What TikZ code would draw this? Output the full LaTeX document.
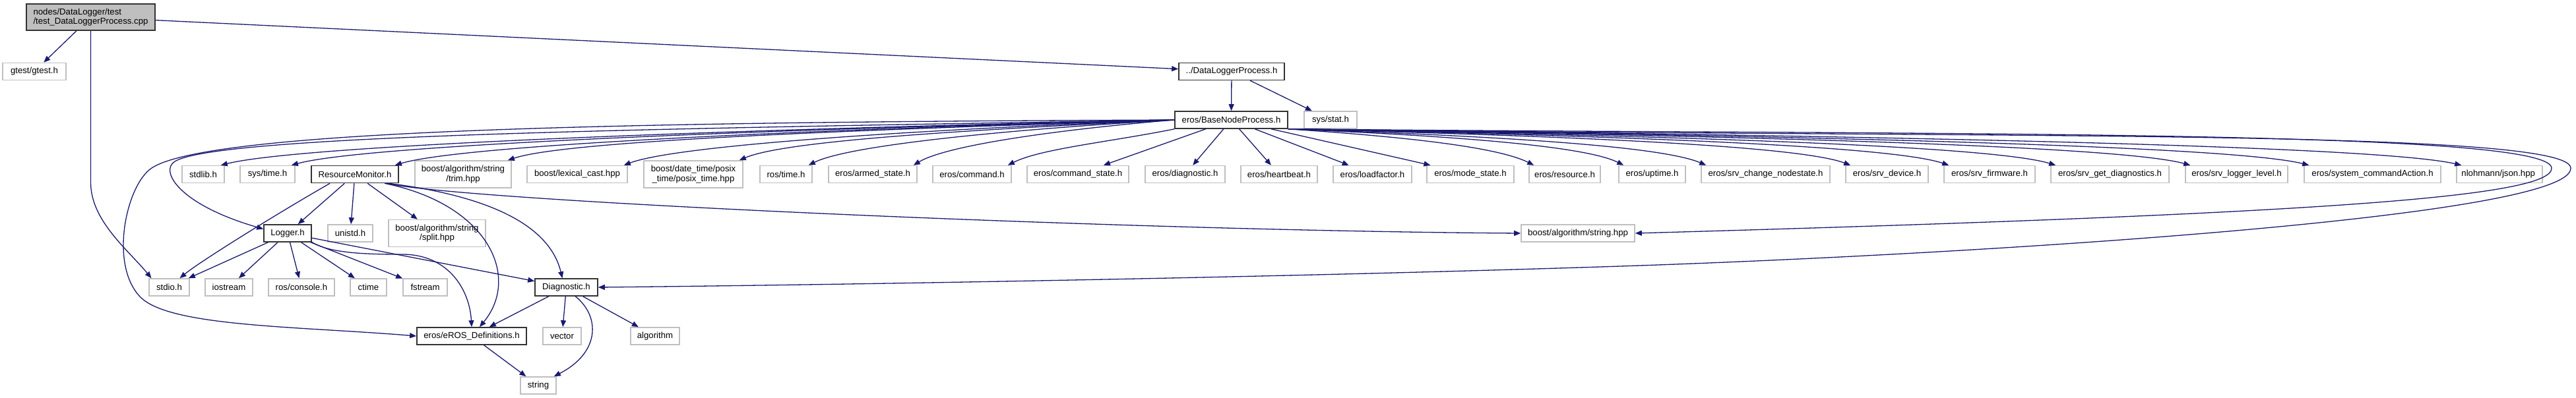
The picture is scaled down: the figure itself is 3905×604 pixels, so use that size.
\documentclass[tikz,border=0pt]{standalone}
\usepackage{fontspec}
\setmainfont{Liberation Sans}
\usepackage{xcolor}
\usepackage{tikz}
\usetikzlibrary{arrows.meta,calc}

\definecolor{edgeblue}{HTML}{191970}
\definecolor{extgray}{HTML}{BFBFBF}

\begin{document}
\begin{tikzpicture}[
  x=0.5pt, y=0.5pt,
  hdrbox/.style={rectangle, inner sep=0pt, minimum height=13pt, align=center, line width=0.8pt, fill=white, font=\fontsize{6.6}{7.4}\selectfont},
  ext/.style={hdrbox, draw=extgray},
  doc/.style={hdrbox, draw=black!80},
  tall/.style={minimum height=20.5pt},
  wd/.style={minimum width=#1*0.5pt},
  dep/.style={draw=edgeblue, line width=0.65pt, -{Triangle[length=5pt, width=4pt]}}
]
  \useasboundingbox (0,0) rectangle (3905,-604);
  \node[doc, fill=extgray, wd=195, minimum height=20pt, align=left] (root) at (137.5,-26) {nodes/DataLogger/test\\/test\_DataLoggerProcess.cpp};
  \node[ext, wd=96] (gtest) at (52,-108.5) {gtest/gtest.h};
  \node[doc, wd=160] (dlp) at (1867,-108.5) {../DataLoggerProcess.h};
  \node[doc, wd=171] (base) at (1866.5,-182) {eros/BaseNodeProcess.h};
  \node[ext, wd=80] (sysstat) at (2017,-182) {sys/stat.h};
  \foreach \name/\x/\w/\label in {
    stdlib/308/64/{stdlib.h}, systime/405.5/83/{sys/time.h}, lexcast/875/152/{boost/lexical\_cast.hpp},
    rostime/1191.5/79/{ros/time.h}, armed/1323/134/{eros/armed\_state.h}, command/1473.5/119/{eros/command.h},
    cmdstate/1634/154/{eros/command\_state.h}, erosdiag/1796.5/121/{eros/diagnostic.h}, heartbeat/1939/116/{eros/heartbeat.h},
    loadfactor/2080.5/119/{eros/loadfactor.h}, modestate/2229/132/{eros/mode\_state.h}, resource/2372/108/{eros/resource.h},
    uptime/2504.5/101/{eros/uptime.h}, chgstate/2676.5/195/{eros/srv\_change\_nodestate.h}, srvdevice/2860.5/125/{eros/srv\_device.h},
    firmware/3016/138/{eros/srv\_firmware.h}, getdiag/3198.5/179/{eros/srv\_get\_diagnostics.h}, loglevel/3390.5/155/{eros/srv\_logger\_level.h},
    syscmd/3596.5/207/{eros/system\_commandAction.h}, json/3789/130/{nlohmann/json.hpp}
  } {
    \node[ext, wd=\w] (\name) at (\x,-264.5) {\label};
  }
  \node[doc, wd=132] (resmon) at (538,-264.5) {ResourceMonitor.h};
  \node[ext, tall, wd=146] (trim) at (702,-264.5) {boost/algorithm/string\\/trim.hpp};
  \node[ext, tall, wd=150] (posixtime) at (1051,-264.5) {boost/date\_time/posix\\\_time/posix\_time.hpp};
  \node[doc, wd=72] (logger) at (436,-354) {Logger.h};
  \node[ext, wd=68] (unistd) at (531,-354) {unistd.h};
  \node[ext, tall, wd=147] (split) at (662.5,-354) {boost/algorithm/string\\/split.hpp};
  \node[ext, wd=172] (algstring) at (2392,-354) {boost/algorithm/string.hpp};
  \foreach \name/\x/\w/\label in {stdio/256.5/61/{stdio.h}, iostream/347/72/{iostream}, console/457/100/{ros/console.h}, ctime/558.5/55/{ctime}, fstream/644.5/67/{fstream}} {
    \node[ext, wd=\w] (\name) at (\x,-436) {\label};
  }
  \node[doc, wd=95] (diagnostic) at (858.5,-436) {Diagnostic.h};
  \node[doc, wd=166] (erosdef) at (715,-510) {eros/eROS\_Definitions.h};
  \node[ext, wd=58] (vector) at (852,-510) {vector};
  \node[ext, wd=74] (algorithm) at (993,-510) {algorithm};
  \node[ext, wd=54] (string) at (816,-585) {string};

  \draw[dep] (root) -- (gtest);
  \draw[dep] (root) -- (dlp);
  \draw[dep] (root.south) -- (137.5,-277) .. controls (137.5,-335) and (195,-380) .. ([xshift=-13.5pt]stdio.north);
  \draw[dep] (dlp) -- (base);\draw[dep] (dlp) -- (sysstat);
  % fan out of BaseNodeProcess
  \foreach \tgt/\lead/\hook in {stdlib/700/120, systime/650/110, resmon/580/100, trim/480/90, lexcast/400/80, posixtime/310/70, rostime/260/60, armed/180/50} {
    \draw[dep] (base.west) .. controls +(-\lead,-15) and +(\hook,30) .. ([xshift=-3pt]\tgt.north east);
  }
  \draw[dep] (base.south west) .. controls +(-100,-20) and +(50,25) .. ([xshift=-3pt]command.north east);
  \foreach \tgt in {cmdstate,erosdiag,heartbeat,loadfactor,modestate} {\draw[dep] (base) -- (\tgt);}
  \foreach \tgt/\lead/\hook in {resource/150/60, uptime/240/60, chgstate/300/70, srvdevice/410/80, firmware/490/90, getdiag/570/100, loglevel/670/110, syscmd/760/120, json/880/130} {
    \draw[dep] (base.south east) .. controls +(\lead,-10) and +(-\hook,30) .. ([xshift=4pt]\tgt.north west);
  }
  \draw[dep] (base.west) .. controls (1000,-185) and (320,-195) .. (230,-255) .. controls (192,-280) and (165,-400) .. (212,-450) .. controls (255,-496) and (450,-495) .. (erosdef.west);
  \draw[dep] (base.west) .. controls (1000,-195) and (330,-205) .. (265,-245) .. controls (242,-259) and (270,-310) .. (logger.170);
  \draw[dep] (base.south east) .. controls (2900,-205) and (3865,-195) .. (3868,-255) .. controls (3870,-300) and (3500,-325) .. (algstring.east);
  \draw[dep] (base.south east) .. controls (3000,-210) and (3895,-195) .. (3897,-255) .. controls (3900,-330) and (3000,-385) .. (2486,-403) .. controls (1986,-420) and (1300,-432) .. (diagnostic.east);
  % ResourceMonitor.h
  \draw[dep] (resmon.200) .. controls (422,-323) and (303,-397) .. ([xshift=8pt]stdio.north);
  \draw[dep] (resmon) -- (logger);\draw[dep] (resmon) -- (unistd);\draw[dep] (resmon) -- (split);
  \draw[dep] (resmon.-17) .. controls (740,-310) and (790,-420) .. ([xshift=6pt]erosdef.north);
  \draw[dep] (resmon.-15) .. controls (760,-300) and (835,-350) .. ([xshift=-3pt]diagnostic.north);
  \draw[dep] (resmon.-16) .. controls (700,-305) and (1700,-350) .. (algstring.west);
  % Logger.h
  \draw[dep] (logger.205) -- ([xshift=-1pt]stdio.north east);
  \foreach \tgt in {iostream,console,ctime,fstream,diagnostic} {\draw[dep] (logger) -- (\tgt);}
  \draw[dep] (logger.-20) .. controls (500,-385) and (560,-386) .. (610,-386) .. controls (680,-386) and (712,-440) .. (erosdef.north);
  % Diagnostic.h
  \draw[dep] (diagnostic) -- (erosdef);\draw[dep] (diagnostic) -- (vector);\draw[dep] (diagnostic) -- (algorithm);
  \draw[dep] (diagnostic.-45) .. controls (910,-480) and (910,-535) .. ([xshift=-2pt]string.north east);
  \draw[dep] (erosdef) -- (string);
\end{tikzpicture}
\end{document}
